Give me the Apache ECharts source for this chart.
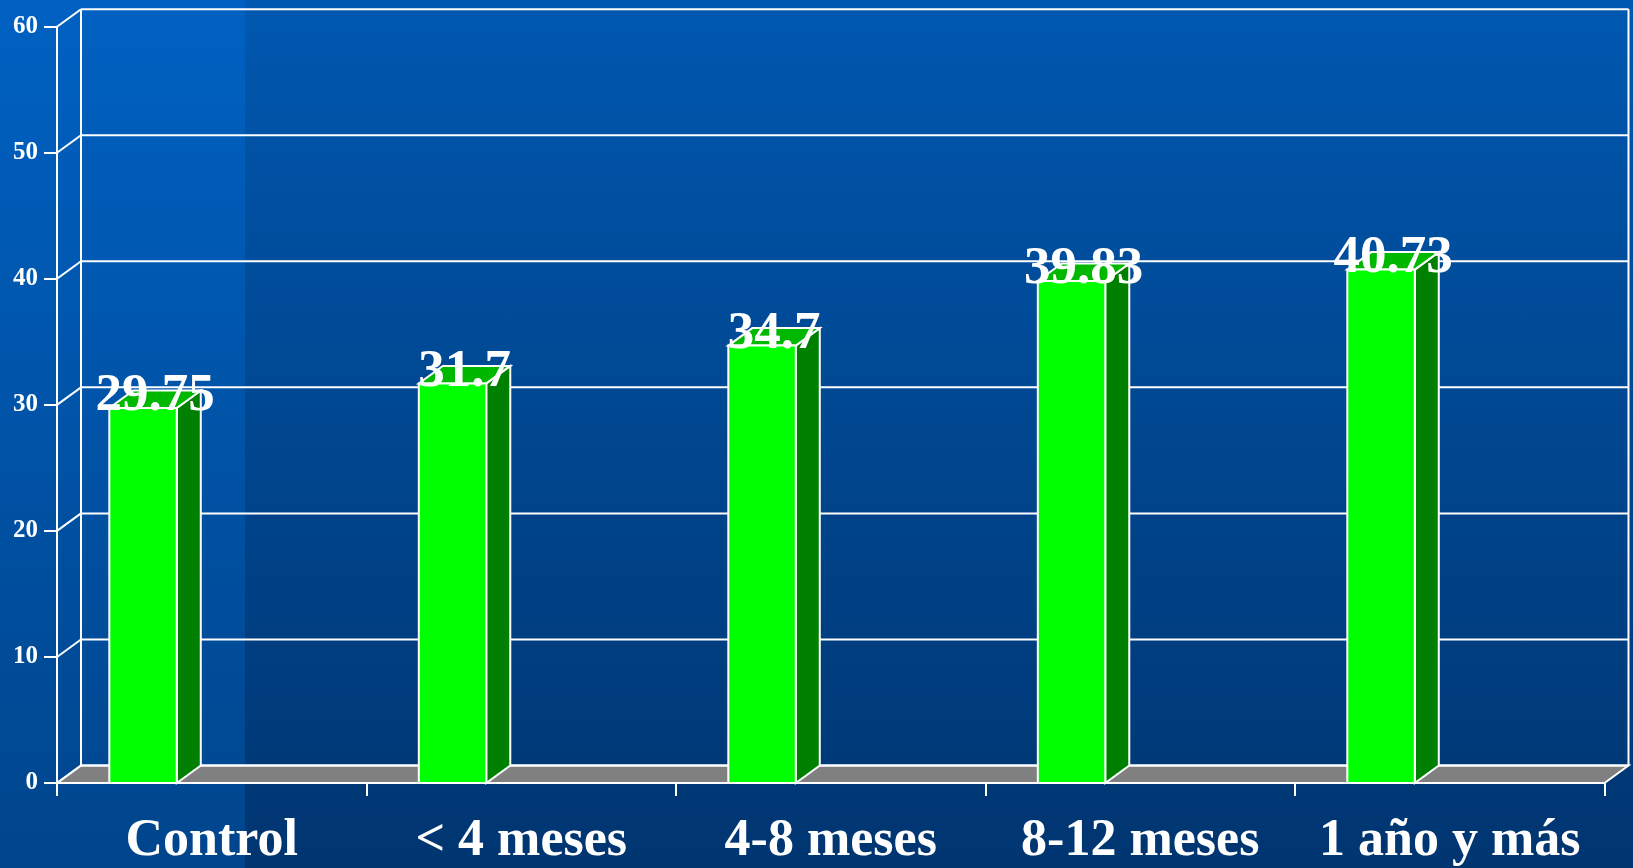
<!DOCTYPE html>
<html>
<head>
<meta charset="utf-8">
<script src="https://cdn.jsdelivr.net/npm/echarts@6/dist/echarts.min.js"></script>
<style>
  html, body { margin: 0; padding: 0; width: 1633px; height: 868px; overflow: hidden; }
  body {
    background:
      linear-gradient(to bottom, #0061C2, #00458C) 0 0 / 245px 100% no-repeat,
      linear-gradient(to bottom, #0058B0, #003570);
  }
  #chart { width: 1633px; height: 868px; }
</style>
</head>
<body>
<div id="chart"></div>
<script>
const categories = ['Control', '< 4 meses', '4-8 meses', '8-12 meses', '1 año y más'];
const values = [29.75, 31.7, 34.7, 39.83, 40.73];
const yTicks = [0, 10, 20, 30, 40, 50, 60];

const DX = 24, DY = -17.5;
const FONT = '"Liberation Serif", "Times New Roman", serif';
const WHITE = '#FFFFFF';

const chart = echarts.init(document.getElementById('chart'), null, { renderer: 'canvas' });

function renderWalls(params, api) {
  const cs = params.coordSys;
  const v = api.value(1);
  const y = api.coord([0, v])[1];
  const x0 = cs.x, x1 = cs.x + cs.width;
  const children = [];
  const line = { stroke: WHITE, lineWidth: 2 };
  if (params.dataIndex === 0) {
    const y0 = y;
    const yTop = api.coord([0, 60])[1];
    children.push({
      type: 'polygon',
      shape: { points: [[x0, y0], [x1, y0], [x1 + DX, y0 + DY], [x0 + DX, y0 + DY]] },
      style: { fill: '#808080', stroke: WHITE, lineWidth: 2 }
    });
    children.push({ type: 'line', shape: { x1: x0 + DX, y1: y0 + DY, x2: x0 + DX, y2: yTop + DY }, style: line });
    children.push({ type: 'line', shape: { x1: x1 + DX, y1: y0 + DY, x2: x1 + DX, y2: yTop + DY }, style: line });
  }
  children.push({ type: 'line', shape: { x1: x0, y1: y, x2: x0 + DX, y2: y + DY }, style: line });
  children.push({ type: 'line', shape: { x1: x0 + DX, y1: y + DY, x2: x1 + DX, y2: y + DY }, style: line });
  return { type: 'group', children: children };
}

function renderBars(params, api) {
  const idx = api.value(0);
  const v = api.value(1);
  const bw = api.size([1, 0])[0];
  const c = api.coord([idx, v]);
  const bottom = api.coord([idx, 0])[1];
  const top = c[1];
  const left = c[0] - 0.5 * bw + 0.169 * bw;
  const w = 0.218 * bw;
  const right = left + w;
  const stroke = { stroke: WHITE, lineWidth: 2, lineJoin: 'miter' };
  return {
    type: 'group',
    children: [
      { type: 'polygon',
        shape: { points: [[right, bottom], [right, top], [right + DX, top + DY], [right + DX, bottom + DY]] },
        style: Object.assign({ fill: '#008000' }, stroke) },
      { type: 'polygon',
        shape: { points: [[left, top], [right, top], [right + DX, top + DY], [left + DX, top + DY]] },
        style: Object.assign({ fill: '#00B800' }, stroke) },
      { type: 'rect',
        shape: { x: left, y: top, width: w, height: bottom - top },
        style: Object.assign({ fill: '#00FF00' }, stroke) },
      { type: 'text',
        z2: 10,
        style: {
          text: String(values[idx]),
          x: left + w / 2 + DX / 2,
          y: top + 15,
          fill: WHITE,
          font: 'bold 53px ' + FONT,
          align: 'center',
          verticalAlign: 'bottom'
        } }
    ]
  };
}

const option = {
  backgroundColor: 'transparent',
  animation: false,
  grid: { left: 57, top: 26.7, width: 1547.5, height: 757.6, containLabel: false },
  xAxis: {
    type: 'category',
    data: categories,
    boundaryGap: true,
    axisLine: { show: true, lineStyle: { color: WHITE, width: 2 } },
    axisTick: { show: true, length: 13, lineStyle: { color: WHITE, width: 2 } },
    axisLabel: { interval: 0, color: WHITE, fontFamily: FONT, fontWeight: 'bold', fontSize: 52, margin: 33 },
    splitLine: { show: false }
  },
  yAxis: {
    type: 'value',
    min: 0, max: 60, interval: 10,
    axisLine: { show: true, lineStyle: { color: WHITE, width: 2 } },
    axisTick: { show: true, length: 13, lineStyle: { color: WHITE, width: 2 } },
    axisLabel: { color: WHITE, fontFamily: FONT, fontWeight: 'bold', fontSize: 25, margin: 19 },
    splitLine: { show: false }
  },
  series: [
    {
      type: 'custom',
      name: 'walls',
      renderItem: renderWalls,
      data: yTicks.map(function (t) { return [0, t]; }),
      silent: true,
      clip: false
    },
    {
      type: 'custom',
      name: 'bars',
      renderItem: renderBars,
      data: values.map(function (v, i) { return [i, v]; }),
      clip: false
    }
  ]
};
chart.setOption(option);
</script>
</body>
</html>
